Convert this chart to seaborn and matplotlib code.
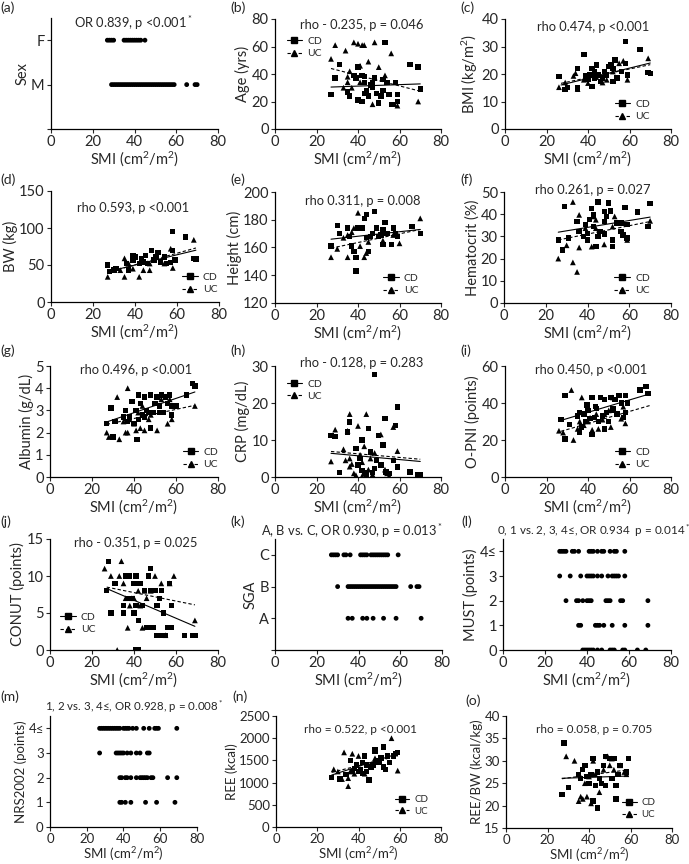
import numpy as np
import matplotlib
matplotlib.use("Agg")
import matplotlib.pyplot as plt
from matplotlib.lines import Line2D
import seaborn as sns

# ---- data ----
# (a) Sex
sex_f_smi = [27, 28, 29, 30, 35, 36, 37, 38, 39, 40, 41, 42, 43, 45]
sex_m_smi = [29, 30, 31, 32, 33, 34, 35, 36, 37, 38, 39, 40, 41, 42, 43, 44, 45, 46, 47,
             48, 49, 50, 51, 52, 53, 54, 55, 56, 57, 58, 59, 65, 69, 70]

# (b) Age
age_cd_x = [27, 29, 31, 35, 36, 38, 39, 40, 42, 43, 43, 44, 46, 47, 48, 49, 50, 52, 52, 53,
            54, 55, 56, 57, 59, 59, 58, 65, 69, 70, 47, 51, 42, 40, 43, 45]
age_cd_y = [25, 37, 47, 27, 24, 39, 37, 21, 20, 34, 26, 28, 32, 34, 37, 26, 19, 36, 28, 63,
            34, 25, 18, 18, 20, 25, 34, 47, 45, 29, 30, 24, 39, 45, 38, 24]
age_uc_x = [27, 29, 33, 34, 35, 37, 38, 40, 41, 42, 43, 45, 47, 48, 50, 53, 56, 59, 69, 41, 35, 36]
age_uc_y = [51, 61, 30, 57, 38, 30, 63, 62, 46, 61, 61, 49, 18, 63, 45, 39, 55, 17, 20, 34, 34, 42]
age_trend_x = [27, 70]
age_cd_trend = [30.5, 32.8]
age_uc_trend = [44.0, 27.5]

# (c) BMI
bmi_cd_x = [26, 29, 30, 35, 35, 38, 39, 40, 42, 42, 43, 44, 45, 46, 48, 49, 51, 52, 52, 54,
            56, 58, 58, 59, 65, 69, 70, 41, 43, 47, 50, 53]
bmi_cd_y = [19.1, 14.3, 15.2, 22.1, 14.9, 27.2, 19.3, 17.9, 22.1, 15.5, 18.5, 23.3, 19.7, 17.3,
            20.9, 19.7, 23.3, 17.3, 22.1, 18.5, 20.9, 31.8, 23.9, 19.7, 29.0, 20.5, 20.1, 19.7,
            20.9, 18.5, 22.7, 25.1]
bmi_uc_x = [26, 29, 33, 34, 35, 38, 40, 44, 47, 49, 52, 57, 59, 69, 43, 55]
bmi_uc_y = [15.2, 16.9, 19.3, 20.3, 14.5, 17.9, 16.7, 18.9, 16.9, 17.9, 20.9, 24.8, 17.9, 25.7,
            20.5, 23.9]
bmi_trend_x = [27, 70]
bmi_cd_trend = [16.0, 24.0]
bmi_uc_trend = [16.6, 23.4]

# (d) BW
bw_cd_x = [27, 28, 30, 31, 36, 37, 39, 40, 42, 43, 44, 46, 48, 49, 50, 51, 52, 54, 55, 57,
           58, 58, 59, 64, 68, 69, 45, 39]
bw_cd_y = [50, 41, 43, 45, 52, 43, 57, 61, 52, 59, 54, 52, 70, 57, 61, 67, 54, 61, 52, 53,
           95, 70, 57, 88, 59, 58, 63, 63]
bw_uc_x = [27, 30, 33, 35, 35, 37, 39, 42, 43, 44, 47, 54, 57, 58, 68, 47]
bw_uc_y = [34, 45, 43, 59, 34, 52, 45, 34, 54, 43, 52, 52, 72, 46, 84, 43]
bw_trend_x = [27, 69]
bw_cd_trend = [41, 70]
bw_uc_trend = [40, 73]

# (e) Height
ht_cd_x = [27, 30, 31, 35, 36, 37, 38, 39, 39, 40, 42, 43, 44, 44, 45, 46, 48, 49, 50, 52,
           52, 53, 54, 56, 57, 58, 59, 66, 70, 51, 47]
ht_cd_y = [161, 176, 170, 174, 168, 161, 157, 143, 153, 174, 174, 181, 184, 167, 157, 168,
           186, 174, 168, 173, 162, 178, 170, 162, 174, 170, 168, 175, 170, 169, 170]
ht_uc_x = [27, 30, 33, 35, 35, 37, 38, 40, 41, 43, 44, 45, 52, 57, 60, 70, 49]
ht_uc_y = [153, 159, 167, 169, 153, 171, 174, 185, 161, 153, 156, 164, 165, 169, 163, 181, 174]
ht_trend_x = [27, 70]
ht_cd_trend = [166, 173]
ht_uc_trend = [159.5, 173]

# (f) Hematocrit
hct_cd_x = [26, 29, 28, 31, 35, 36, 38, 39, 40, 40, 41, 42, 43, 43, 44, 45, 45, 46, 48, 48,
            49, 50, 51, 52, 52, 54, 56, 56, 57, 58, 59, 64, 69, 70, 59, 48]
hct_cd_y = [28.4, 43.5, 23.9, 29.2, 36.7, 32.2, 29.9, 35.5, 28.4, 31.4, 37.5, 42.7, 34.4, 39.7,
            25.4, 29.9, 45.5, 32.2, 41.2, 31.0, 39.0, 45.0, 41.5, 25.4, 28.4, 36.0, 36.0, 32.2,
            30.7, 43.0, 29.2, 41.0, 34.4, 44.9, 35.5, 36.7]
hct_uc_x = [26, 30, 33, 33, 35, 36, 36, 39, 42, 43, 44, 48, 52, 53, 59, 70, 44]
hct_uc_y = [20, 26, 45.5, 18.3, 14, 25, 39.7, 33.7, 25.4, 39, 33.7, 26.4, 34.4, 39, 28.4, 37, 37.5]
hct_trend_x = [26, 70]
hct_cd_trend = [31.9, 38.7]
hct_uc_trend = [28.4, 36.7]

# (g) Albumin
alb_cd_x = [27, 29, 30, 31, 35, 36, 37, 38, 39, 40, 41, 41.5, 42, 42, 43, 44, 45, 45, 46, 47,
            48, 48, 49, 50, 51, 52, 52, 53, 54, 55, 56, 57, 58, 58, 60, 65, 68, 69]
alb_cd_y = [2.4, 3.1, 1.8, 2.5, 2.7, 3.0, 2.5, 2.7, 3.4, 2.4, 3.0, 1.7, 3.7, 2.6, 3.3, 2.8,
            2.7, 3.6, 3.0, 2.9, 3.7, 2.2, 2.9, 3.3, 3.6, 2.9, 3.2, 3.7, 2.9, 3.6, 3.3, 3.7,
            2.8, 3.2, 3.2, 3.7, 4.2, 4.1]
alb_uc_x = [27, 28, 32, 33, 35, 36, 37, 37, 38, 40, 41, 42, 43, 44, 45, 47, 48, 51, 53, 56,
            57, 58, 69]
alb_uc_y = [2.0, 1.8, 3.6, 1.7, 2.5, 2.0, 2.0, 4.0, 2.6, 2.4, 2.1, 2.9, 2.2, 3.2, 2.1, 2.6,
            2.8, 2.1, 3.5, 2.4, 3.5, 2.6, 3.2]
alb_trend_x = [27, 69]
alb_cd_trend = [2.48, 3.83]
alb_uc_trend = [2.37, 3.23]

# (h) CRP
crp_cd_x = [27, 29, 31, 36, 35, 39, 40, 41, 42, 42, 43, 43.5, 44, 45, 46, 47, 48, 49, 50, 51,
            52, 53, 53.5, 55, 57, 58, 59, 59, 65, 69, 70, 48]
crp_cd_y = [11.3, 11.0, 1.3, 14.9, 12.2, 7.7, 3.2, 5.0, 10.0, 1.8, 1.3, 0.9, 0.5, 13.1, 6.8,
            1.3, 2.3, 4.5, 11.3, 3.2, 8.6, 15.8, 1.4, 0.9, 4.5, 14.0, 18.9, 2.7, 1.4, 0.6, 0.5,
            27.7]
crp_uc_x = [27, 29, 33, 34, 35, 36, 36, 37, 38, 39, 40, 41, 42, 43, 44, 45, 46, 47, 48, 51,
            53, 54, 55, 57, 59, 69, 36, 42]
crp_uc_y = [4.2, 12.8, 7.5, 4.5, 12.5, 17.0, 5.0, 3.5, 1.0, 0.5, 13.8, 6.0, 4.0, 8.3, 17.0,
            2.0, 5.0, 0.7, 6.5, 11.5, 2.0, 1.0, 0.3, 13.5, 7.0, 0.6, 2.8, 0.3]
crp_trend_x = [27, 70]
crp_cd_trend = [6.4, 4.2]
crp_uc_trend = [6.9, 4.8]

# (i) O-PNI
pni_cd_x = [27, 29, 29, 31, 35, 36, 36, 37, 38, 39, 39.5, 40, 41, 42, 42, 43, 43.5, 44, 45,
            46, 47, 48, 48, 49, 50, 51, 52, 52, 53, 54, 55, 56, 57, 58, 58, 59, 65, 68, 69]
pni_cd_y = [31, 44, 20.5, 28.5, 33, 35, 24, 27, 34, 30, 39, 36, 31.5, 43, 23, 32, 38, 37, 30,
            43, 33, 26, 42, 35, 30, 43, 36, 37, 42, 34, 44, 40, 32, 44, 35, 40, 47, 49, 45]
pni_uc_x = [26, 28, 32, 33, 35, 36, 37, 38, 40, 41, 42, 44, 45, 47, 48, 50, 51, 52, 56, 57,
            58, 40]
pni_uc_y = [25, 24, 47, 20, 26, 30, 43, 28, 30, 32, 25.5, 34, 26, 31, 34, 36, 27, 43, 31.5,
            38, 29, 38]
pni_trend_x = [27, 70]
pni_cd_trend = [30.6, 45.0]
pni_uc_trend = [24.7, 38.7]

# (j) CONUT
conut_cd_x = [27, 28, 29, 31, 35, 35, 36, 37, 38, 39, 40, 40, 41, 41, 42, 42, 41, 42, 43, 44,
              45, 46, 47, 47, 48, 48, 49, 50, 51, 51, 52, 53, 53, 54, 55, 56, 57, 58, 58, 64,
              68, 69]
conut_cd_y = [8, 12, 5, 9, 6, 5, 10, 7, 10, 7, 5, 9, 10, 6, 4, 9, 0, 0, 9, 6, 8, 3, 10, 3, 11,
              8, 3, 8, 2, 6, 7, 8, 2, 5, 2, 3, 9, 3, 6, 2, 2, 2]
conut_uc_x = [26, 29, 32, 33, 34, 35, 36, 37, 38, 39, 42, 43, 44, 45, 46, 48, 50, 53, 55, 57,
              59, 69, 40]
conut_uc_y = [11, 10, 0, 10, 12, 9, 7, 3, 6, 7, 8, 6, 3, 8, 7, 8, 10, 9, 2, 9, 10, 4, 7]
conut_trend_x = [27, 69]
conut_cd_trend = [8.3, 3.2]
conut_uc_trend = [8.5, 6.1]

# (k) SGA
sga_c_smi = [27, 28, 29, 30, 33, 34, 36, 41, 42, 43, 44, 46, 47, 48, 49, 50, 51, 52, 53, 54, 59]
sga_b_smi = [30, 35, 36, 37, 38, 39, 40, 41, 42, 43, 44, 45, 46, 47, 48, 49, 50, 51, 52, 53,
             54, 55, 56, 57, 58, 65, 68, 69]
sga_a_smi = [35, 37, 42, 44, 47, 52, 58, 70]

# (l) MUST
must_4_smi = [27, 28, 29, 30, 33, 34, 36, 41, 42, 43, 45, 47, 48, 51, 53, 54, 58]
must_3_smi = [27, 32, 37, 40, 41, 42, 43, 45, 47, 50, 52, 53, 54, 55, 58]
must_2_smi = [30, 35, 36, 38, 40, 41, 42, 49, 50, 51, 56, 57, 69]
must_1_smi = [36, 37, 44, 45, 46, 48, 52, 58, 69]
must_0_smi = [38, 39, 40, 41, 42, 43, 45, 47, 51, 52, 53, 57, 58, 64, 68]

# (m) NRS2002
nrs_4_smi = [27, 28, 29, 30, 31, 32, 33, 34, 35, 36, 37, 38, 40, 41, 42, 43, 45, 47, 51, 54,
             57, 58, 59, 69]
nrs_3_smi = [27, 36, 37, 38, 39, 40, 42, 44, 47, 49, 53, 54]
nrs_2_smi = [38, 39, 41, 42, 44, 47, 49, 50, 51, 52, 53, 55, 56, 64, 69]
nrs_1_smi = [38, 39, 41, 44, 52, 58, 68]

# (n) REE
ree_cd_x = [27, 31, 34, 36, 37, 38, 39, 40, 41, 42, 42, 43, 44, 45, 46, 47, 48, 48, 49, 50,
            51, 52, 52, 53, 54, 57, 58, 59, 55, 44]
ree_cd_y = [1110, 1080, 1180, 1500, 1250, 1320, 1400, 1250, 1300, 1450, 1200, 1600, 1400,
            1060, 1350, 1400, 1750, 1700, 1500, 1450, 1550, 1800, 1350, 1300, 1600, 1600,
            1650, 1680, 1450, 1250]
ree_uc_x = [28, 32, 33, 35, 35, 36, 37, 38, 40, 41, 43, 48, 50, 56, 59, 30]
ree_uc_y = [1300, 1080, 1680, 1100, 920, 1250, 1650, 1200, 1600, 1300, 1200, 1550, 1500,
            2000, 1270, 1250]
ree_trend_x = [27, 59]
ree_cd_trend = [1170, 1650]
ree_uc_trend = [1230, 1600]

# (o) REE/BW
rbw_cd_x = [27, 28, 30, 35, 36, 37, 38, 39, 40, 41, 42, 42, 43, 44, 45, 46, 47, 48, 48, 50,
            51, 52, 53, 53, 54, 55, 58, 59, 44]
rbw_cd_y = [22.5, 34, 24, 27, 26, 28, 29, 26.5, 25, 27, 21, 30.5, 24.5, 19.5, 26, 25, 29, 31,
            24.5, 30.5, 26, 30.5, 21.5, 24.5, 27, 29, 27.5, 30.5, 27.5]
rbw_uc_x = [29, 33, 35, 36, 37, 38, 39, 40, 41, 42, 43, 45, 47, 49, 50, 51, 52, 55, 57, 58]
rbw_uc_y = [31, 30, 21, 22, 21.5, 25, 22, 26.5, 20.5, 30, 27, 23, 28, 31, 29, 30.5, 28, 29,
            27.5, 27]
rbw_trend_x = [27, 59]
rbw_cd_trend = [26.1, 26.6]
rbw_uc_trend = [26.0, 28.0]

SMI_LABEL = "SMI (cm$^2$/m$^2$)"

# ---- figure ----
sns.set_style("ticks")
plt.rcParams["font.family"] = ["Lato", "DejaVu Sans"]
plt.rcParams["mathtext.fontset"] = "custom"
plt.rcParams["mathtext.rm"] = "Lato"
plt.rcParams["mathtext.it"] = "Lato"

W, H = 689, 864
fig = plt.figure(figsize=(W / 100, H / 100), dpi=100)
FS = 10.5


def add_ax(l, t, r, b):
    return fig.add_axes([l / W, 1 - b / H, (r - l) / W, (b - t) / H])


def style(ax, ylim, yticks, yticklabels=None, ylabel="", fs=FS):
    ax.set_xlim(0, 80)
    ax.set_xticks([0, 20, 40, 60, 80])
    ax.set_ylim(*ylim)
    ax.set_yticks(yticks)
    if yticklabels is not None:
        ax.set_yticklabels(yticklabels)
    ax.set_xlabel(SMI_LABEL, fontsize=fs, labelpad=0)
    ax.set_ylabel(ylabel, fontsize=fs, labelpad=1)
    ax.tick_params(direction="out", length=3, width=0.8, labelsize=fs, pad=1.5)
    for s in ["top", "right"]:
        ax.spines[s].set_visible(False)
    for s in ["left", "bottom"]:
        ax.spines[s].set_linewidth(0.9)
        ax.spines[s].set_color("black")


def group_scatter(ax, cd_x, cd_y, uc_x, uc_y, tx, cd_t, uc_t):
    sns.scatterplot(x=cd_x, y=cd_y, ax=ax, marker="s", s=15, color="black",
                    edgecolor="none", zorder=3)
    sns.scatterplot(x=uc_x, y=uc_y, ax=ax, marker="^", s=17, color="black",
                    edgecolor="none", zorder=3)
    sns.lineplot(x=tx, y=cd_t, ax=ax, color="black", lw=0.8, ls="-", zorder=4)
    sns.lineplot(x=tx, y=uc_t, ax=ax, color="black", lw=0.8, ls=(0, (3, 2)), zorder=4)


def group_legend(ax, anchor, loc="lower left", fs=7.5):
    h = [Line2D([], [], color="black", lw=0.8, ls="-", marker="s", ms=4),
         Line2D([], [], color="black", lw=0.8, ls=(0, (3, 2)), marker="^", ms=4.5)]
    ax.legend(h, ["CD", "UC"], loc=loc, bbox_to_anchor=anchor, frameon=False,
              fontsize=fs, handlelength=1.5, handletextpad=0.5, labelspacing=0.3,
              borderpad=0, borderaxespad=0)


def cat_scatter(ax, rows):
    for level, xs in rows:
        sns.scatterplot(x=xs, y=[level] * len(xs), ax=ax, marker="o", s=12,
                        color="black", edgecolor="none", zorder=3)


def note(ax, x, y, s, size=9.3):
    ax.text(x, y, s, transform=ax.transAxes, ha="center", va="center", fontsize=size)


# panel letters
letters = [("(a)", 0, 1), ("(b)", 230, 1), ("(c)", 460, 1),
           ("(d)", 0, 173), ("(e)", 230, 173), ("(f)", 460, 173),
           ("(g)", 0, 344), ("(h)", 230, 344), ("(i)", 460, 344),
           ("(j)", 0, 515), ("(k)", 230, 515), ("(l)", 461, 515),
           ("(m)", 0, 690), ("(n)", 232, 690), ("(o)", 465, 694)]
for lab, px, py in letters:
    fig.text(px / W, 1 - py / H, lab, ha="left", va="top", fontsize=10)

# (a)
ax = add_ax(51, 18, 218, 129)
cat_scatter(ax, [(2, sex_f_smi), (1, sex_m_smi)])
style(ax, (0, 2.5), [0, 1, 2], ["", "M", "F"], "Sex")
note(ax, 0.49, 0.95, "OR 0.839, p <0.001$^*$")

# (b)
ax = add_ax(275, 19, 441, 129)
group_scatter(ax, age_cd_x, age_cd_y, age_uc_x, age_uc_y, age_trend_x, age_cd_trend, age_uc_trend)
style(ax, (0, 80), [0, 20, 40, 60, 80], ylabel="Age (yrs)")
note(ax, 0.52, 0.945, "rho - 0.235, p = 0.046")
group_legend(ax, (0.07, 0.84), loc="upper left")

# (c)
ax = add_ax(505, 19, 671, 129)
group_scatter(ax, bmi_cd_x, bmi_cd_y, bmi_uc_x, bmi_uc_y, bmi_trend_x, bmi_cd_trend, bmi_uc_trend)
style(ax, (0, 40), [0, 10, 20, 30, 40], ylabel="BMI (kg/m$^2$)")
note(ax, 0.53, 0.93, "rho 0.474, p <0.001")
group_legend(ax, (0.66, 0.07))

# (d)
ax = add_ax(51, 191, 219, 302)
group_scatter(ax, bw_cd_x, bw_cd_y, bw_uc_x, bw_uc_y, bw_trend_x, bw_cd_trend, bw_uc_trend)
style(ax, (0, 150), [0, 50, 100, 150], ylabel="BW (kg)")
note(ax, 0.49, 0.85, "rho 0.593, p <0.001")
group_legend(ax, (0.78, 0.07))

# (e)
ax = add_ax(275, 192, 441, 303)
group_scatter(ax, ht_cd_x, ht_cd_y, ht_uc_x, ht_uc_y, ht_trend_x, ht_cd_trend, ht_uc_trend)
style(ax, (120, 200), [120, 140, 160, 180, 200], ylabel="Height (cm)")
note(ax, 0.53, 0.92, "rho 0.311, p = 0.008")
group_legend(ax, (0.65, 0.07))

# (f)
ax = add_ax(504, 192, 671, 303)
group_scatter(ax, hct_cd_x, hct_cd_y, hct_uc_x, hct_uc_y, hct_trend_x, hct_cd_trend, hct_uc_trend)
style(ax, (0, 50), [0, 10, 20, 30, 40, 50], ylabel="Hematocrit (%)")
note(ax, 0.53, 1.02, "rho 0.261, p = 0.027")
group_legend(ax, (0.66, 0.07))

# (g)
ax = add_ax(50, 366, 218, 477)
group_scatter(ax, alb_cd_x, alb_cd_y, alb_uc_x, alb_uc_y, alb_trend_x, alb_cd_trend, alb_uc_trend)
style(ax, (0, 5), [0, 1, 2, 3, 4, 5], ylabel="Albumin (g/dL)")
note(ax, 0.51, 0.96, "rho 0.496, p <0.001")
group_legend(ax, (0.79, 0.07))

# (h)
ax = add_ax(275, 366, 441, 477)
group_scatter(ax, crp_cd_x, crp_cd_y, crp_uc_x, crp_uc_y, crp_trend_x, crp_cd_trend, crp_uc_trend)
style(ax, (0, 30), [0, 10, 20, 30], ylabel="CRP (mg/dL)")
note(ax, 0.52, 1.03, "rho - 0.128, p = 0.283")
group_legend(ax, (0.07, 0.88), loc="upper left")

# (i)
ax = add_ax(505, 366, 671, 477)
group_scatter(ax, pni_cd_x, pni_cd_y, pni_uc_x, pni_uc_y, pni_trend_x, pni_cd_trend, pni_uc_trend)
style(ax, (0, 60), [0, 20, 40, 60], ylabel="O-PNI (points)")
note(ax, 0.52, 0.96, "rho 0.450, p <0.001")
group_legend(ax, (0.66, 0.07))

# (j)
ax = add_ax(50, 539, 218, 650)
group_scatter(ax, conut_cd_x, conut_cd_y, conut_uc_x, conut_uc_y, conut_trend_x,
              conut_cd_trend, conut_uc_trend)
style(ax, (0, 15), [0, 5, 10, 15], ylabel="CONUT (points)")
note(ax, 0.51, 0.96, "rho - 0.351, p = 0.025")
group_legend(ax, (0.06, 0.14))

# (k)
ax = add_ax(275, 539, 442, 650)
cat_scatter(ax, [(3, sga_c_smi), (2, sga_b_smi), (1, sga_a_smi)])
style(ax, (0, 3.5), [0, 1, 2, 3], ["", "A", "B", "C"], "SGA")
note(ax, 0.46, 1.07, "A, B vs. C, OR 0.930, p = 0.013$^*$", size=9.3)

# (l)
ax = add_ax(503, 539, 671, 650)
cat_scatter(ax, [(4, must_4_smi), (3, must_3_smi), (2, must_2_smi), (1, must_1_smi),
                 (0, must_0_smi)])
style(ax, (0, 4.5), [0, 1, 2, 3, 4], ["0", "1", "2", "3", "4≤"], "MUST (points)")
note(ax, 0.54, 1.07, "0, 1 vs. 2, 3, 4≤, OR 0.934  p = 0.014$^*$", size=8.4)

# (m)
ax = add_ax(50, 716, 197, 827)
cat_scatter(ax, [(4, nrs_4_smi), (3, nrs_3_smi), (2, nrs_2_smi), (1, nrs_1_smi)])
style(ax, (0, 4.5), [0, 1, 2, 3, 4], ["0", "1", "2", "3", "4≤"], "NRS2002 (points)", fs=9.5)
note(ax, 0.57, 1.08, "1, 2 vs. 3, 4≤, OR 0.928, p = 0.008$^*$", size=8.3)

# (n)
ax = add_ax(276, 716, 441, 827)
group_scatter(ax, ree_cd_x, ree_cd_y, ree_uc_x, ree_uc_y, ree_trend_x, ree_cd_trend, ree_uc_trend)
style(ax, (0, 2500), [0, 500, 1000, 1500, 2000, 2500], ylabel="REE (kcal)", fs=9.5)
note(ax, 0.51, 0.88, "rho = 0.522, p <0.001", size=8.5)
group_legend(ax, (0.72, 0.1), fs=7)

# (o)
ax = add_ax(506, 716, 672, 828)
group_scatter(ax, rbw_cd_x, rbw_cd_y, rbw_uc_x, rbw_uc_y, rbw_trend_x, rbw_cd_trend, rbw_uc_trend)
style(ax, (15, 40), [15, 20, 25, 30, 35, 40], ylabel="REE/BW (kcal/kg)", fs=9.5)
note(ax, 0.53, 0.88, "rho = 0.058, p = 0.705", size=8.5)
group_legend(ax, (0.70, 0.08), fs=7)

fig.savefig("out.png", dpi=100)
